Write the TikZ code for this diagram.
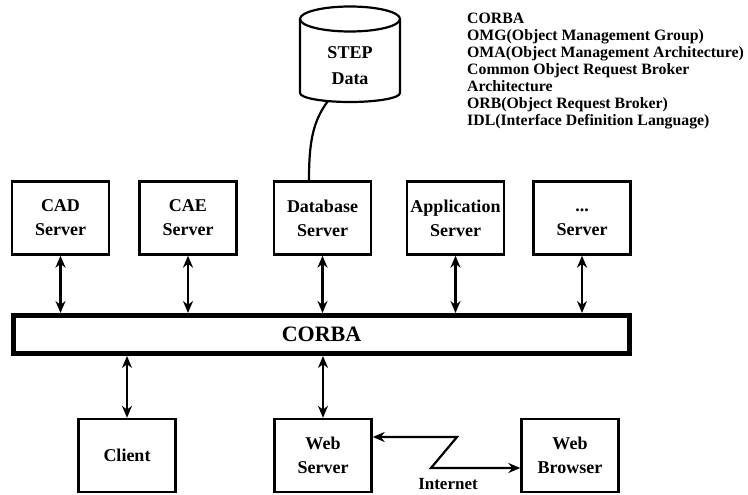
\documentclass[tikz,border=0pt]{standalone}
\usepackage{fontspec}
\setmainfont{Liberation Serif}
\usetikzlibrary{arrows.meta,calc}
\begin{document}
\begin{tikzpicture}[x=1pt,y=-1pt,
  srv/.style={draw, line width=2.4pt, minimum width=97pt, minimum height=73pt,
    inner sep=0pt, align=center, font=\fontsize{18}{24}\selectfont\bfseries},
  bus/.style={draw, line width=5pt, minimum width=616pt, minimum height=38pt,
    inner sep=0pt, font=\fontsize{22}{26}\selectfont\bfseries},
  link/.style={line width=2.2pt,
    {Stealth[length=12pt,width=10pt]}-{Stealth[length=12pt,width=10pt]}},
  wire/.style={line width=2.2pt},
  lbl/.style={font=\fontsize{17}{20}\selectfont\bfseries, inner sep=0pt},
  ]
\useasboundingbox[fill=white] (0,0) rectangle (748,495);

% STEP data store
\draw[wire, fill=white] (300,19) -- (300,93)
  arc[start angle=180, end angle=0, x radius=50, y radius=9] -- (400,19);
\draw[wire] (350,19) ellipse[x radius=50, y radius=12.5];
\node[align=center, inner sep=0pt, font=\fontsize{18}{26}\selectfont\bfseries]
  (step) at (350,66) {STEP\\Data};
\coordinate (cylbot) at (328,101);

% list of abbreviations
\node[anchor=north west, align=left, inner sep=0pt,
  font=\fontsize{15.8}{17}\selectfont\bfseries] (legend) at (467,12.5)
  {CORBA\\
   OMG(Object Management Group)\\
   OMA(Object Management Architecture)\\
   Common Object Request Broker\\
   Architecture\\
   ORB(Object Request Broker)\\
   IDL(Interface Definition Language)};

% server row
\node[srv] (cad) at (60.5,218)  {CAD\\Server};
\node[srv] (cae) at (188,218)   {CAE\\Server};
\node[srv] (db)  at (322.5,218) {Database\\Server};
\node[srv] (app) at (455.5,218) {Application\\Server};
\node[srv] (oth) at (582,218)   {\vphantom{D}...\\Server};

% object request broker bus
\node[bus] (corba) at (321.5,334.5) {CORBA};

% client row
\node[srv] (client) at (127,455.5) {Client};
\node[srv] (ws)     at (323,455.5) {Web\\Server};
\node[srv] (wb)     at (570,455.5) {Web\\Browser};

% database link to the data store
\draw[wire] (cylbot) .. controls (312,122) and (309,145) .. ([xshift=-13.5pt]db.north);

% servers to bus
\foreach \s in {cad,cae,db,app,oth}
  \draw[link] (\s.south) -- (\s.south |- corba.north);

% bus to clients
\draw[link] (corba.south -| client) -- (client.north);
\draw[link] (corba.south -| ws) -- (ws.north);

% internet zigzag
\coordinate (zA) at (457,437);
\coordinate (zB) at (431,468);
\draw[link, line join=miter] (ws.east |- zA) -- (zA) -- (zB) -- (wb.west |- zB);
\node[lbl, anchor=base] (inet) at (448,489) {Internet};
\end{tikzpicture}
\end{document}
